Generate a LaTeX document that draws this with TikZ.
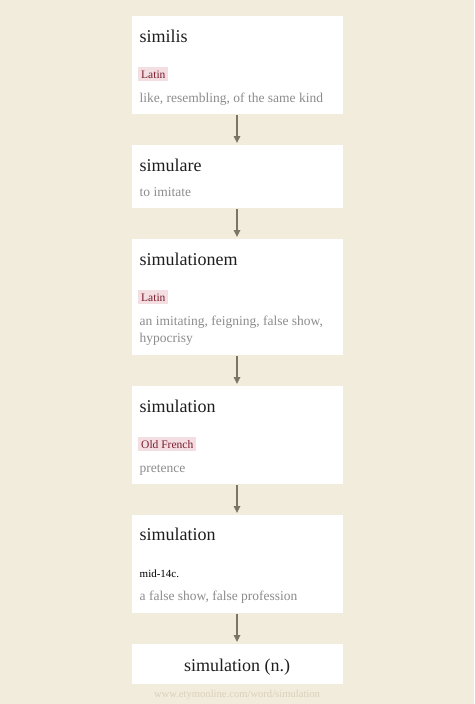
\documentclass[tikz,border=0pt]{standalone}
\usepackage{fontspec}
\setmainfont{Liberation Serif}
\usetikzlibrary{arrows.meta}
\usetikzlibrary{positioning}
\definecolor{mcream}{RGB}{242,236,220}
\definecolor{marrow}{RGB}{125,117,100}
\definecolor{mgray}{RGB}{140,140,140}
\definecolor{mtitle}{RGB}{30,30,30}
\definecolor{mtagbg}{RGB}{243,222,226}
\definecolor{mtagfg}{RGB}{122,28,44}
\definecolor{mfoot}{RGB}{218,208,186}
\tikzset{card/.style = {fill=white, inner sep=0pt, outer sep=0pt, minimum width=211pt, anchor=north},
         title/.style = {anchor=base west, inner sep=0pt, text=mtitle, font=\fontsize{18}{20}\selectfont},
         gloss/.style = {anchor=base west, inner sep=0pt, text=mgray, align=left,
                         font=\fontsize{13.5}{17}\selectfont},
         lang/.style = {anchor=base west, fill=mtagbg, text=mtagfg, inner xsep=3pt, inner ysep=3pt,
                        text height=8.5pt, text depth=0pt, font=\fontsize{11.5}{13}\selectfont},
         date/.style = {anchor=base west, inner sep=0pt, text=black, font=\fontsize{11}{13}\selectfont},
         link/.style = {draw=marrow, line width=1.6pt, shorten <=1pt, shorten >=2pt,
                        -{Triangle[width=6.5pt,length=7pt]}}}

\begin{document}
\begin{tikzpicture}
    \fill [mcream] (0pt, 0pt) rectangle (474pt, -704pt);
    \useasboundingbox (0pt, 0pt) rectangle (474pt, -704pt);

    % cards
    \node [card, minimum height=98pt] (similis) at (237pt, -16pt) {};
    \node [card, minimum height=63pt, below=31pt of similis] (simulare) {};
    \node [card, minimum height=116pt, below=31pt of simulare] (simulationem) {};
    \node [card, minimum height=98pt, below=31pt of simulationem] (oldfrench) {};
    \node [card, minimum height=98pt, below=31pt of oldfrench] (english) {};
    \node [card, minimum height=40pt, below=31pt of english] (word) {};

    % similis
    \node [title] (similisT) at ([xshift=8pt, yshift=-26pt]similis.north west) {similis};
    \node [lang] (similisL) at ([xshift=6.5pt, yshift=-62pt]similis.north west) {Latin};
    \node [gloss] (similisG) at ([xshift=8pt, yshift=-86pt]similis.north west) {like, resembling, of the same kind};

    % simulare
    \node [title] (simulareT) at ([xshift=8pt, yshift=-26pt]simulare.north west) {simulare};
    \node [gloss] (simulareG) at ([xshift=8pt, yshift=-51pt]simulare.north west) {to imitate};

    % simulationem (base is the last line)
    \node [title] (simulationemT) at ([xshift=8pt, yshift=-26pt]simulationem.north west) {simulationem};
    \node [lang] (simulationemL) at ([xshift=6.5pt, yshift=-62pt]simulationem.north west) {Latin};
    \node [gloss] (simulationemG) at ([xshift=8pt, yshift=-103pt]simulationem.north west)
          {an imitating, feigning, false show,\\hypocrisy};

    % simulation, Old French
    \node [title] (oldfrenchT) at ([xshift=8pt, yshift=-26pt]oldfrench.north west) {simulation};
    \node [lang] (oldfrenchL) at ([xshift=6.5pt, yshift=-62pt]oldfrench.north west) {Old French};
    \node [gloss] (oldfrenchG) at ([xshift=8pt, yshift=-86pt]oldfrench.north west) {pretence};

    % simulation, English
    \node [title] (englishT) at ([xshift=8pt, yshift=-25pt]english.north west) {simulation};
    \node [date] (englishD) at ([xshift=8pt, yshift=-62pt]english.north west) {mid-14c.};
    \node [gloss] (englishG) at ([xshift=8pt, yshift=-85pt]english.north west) {a false show, false profession};

    % result
    \node [anchor=base, inner sep=0pt, text=mtitle, font=\fontsize{18}{20}\selectfont] (wordT)
          at ([yshift=-27pt]word.north) {simulation (n.)};
    \node [anchor=base, inner sep=0pt, text=mfoot, font=\fontsize{10.6}{12}\selectfont] (source)
          at ([yshift=-13pt]word.south) {www.etymonline.com/word/simulation};

    % links
    \draw [link] (similis) -- (simulare);
    \draw [link] (simulare) -- (simulationem);
    \draw [link] (simulationem) -- (oldfrench);
    \draw [link] (oldfrench) -- (english);
    \draw [link] (english) -- (word);
\end{tikzpicture}
\end{document}
